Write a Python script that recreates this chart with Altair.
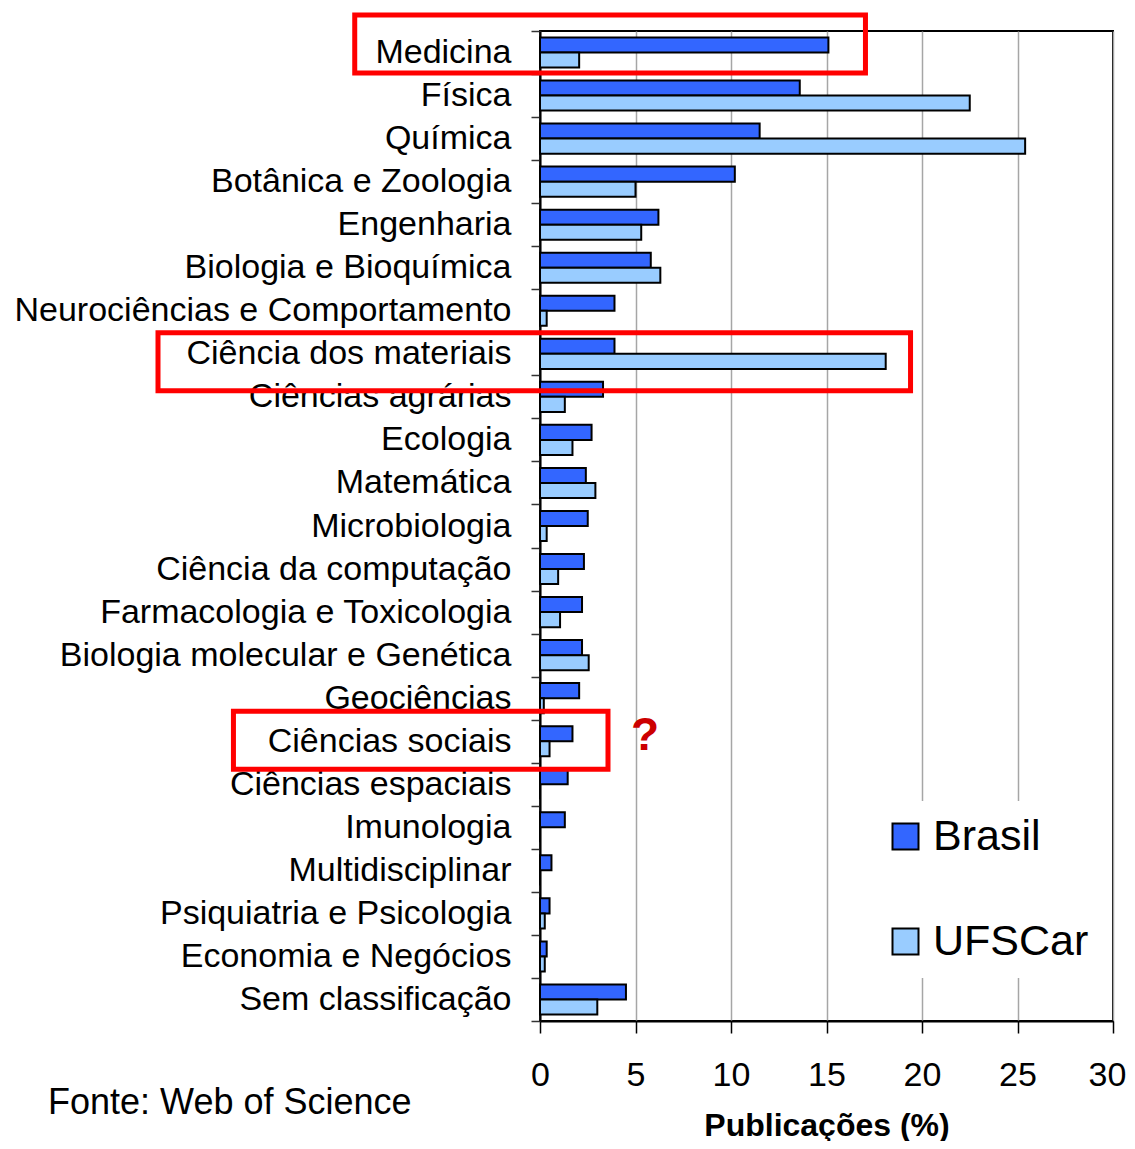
import altair as alt
import pandas as pd

categories = ["Medicina", "Física", "Química", "Botânica e Zoologia", "Engenharia",
              "Biologia e Bioquímica", "Neurociências e Comportamento", "Ciência dos materiais",
              "Ciências agrárias", "Ecologia", "Matemática", "Microbiologia",
              "Ciência da computação", "Farmacologia e Toxicologia",
              "Biologia molecular e Genética", "Geociências", "Ciências sociais",
              "Ciências espaciais", "Imunologia", "Multidisciplinar",
              "Psiquiatria e Psicologia", "Economia e Negócios", "Sem classificação"]
brasil = [15.1, 13.6, 11.5, 10.2, 6.2, 5.8, 3.9, 3.9, 3.3, 2.7, 2.4, 2.5, 2.3, 2.2,
          2.2, 2.05, 1.7, 1.45, 1.3, 0.6, 0.5, 0.35, 4.5]
ufscar = [2.05, 22.5, 25.4, 5.0, 5.3, 6.3, 0.35, 18.1, 1.3, 1.7, 2.9, 0.35, 0.95, 1.05,
          2.55, 0.2, 0.5, 0.0, 0.0, 0.0, 0.25, 0.25, 3.0]
series = ["Brasil", "UFSCar"]
colors = ["#3366FF", "#99CCFF"]
x_ticks = [0, 5, 10, 15, 20, 25, 30]

# highlighted categories (box extents in data units)
box_cats = ["Medicina", "Ciência dos materiais", "Ciências sociais"]
box_x0 = [-9.7, -20.0, -16.05]
box_x1 = [17.04, 19.4, 3.56]
box_shift = [-8.5, 8, -1]

FONT = "Liberation Sans"

rows = []
for c, b, u in zip(categories, brasil, ufscar):
    rows.append({"cat": c, "serie": "Brasil", "val": b})
    rows.append({"cat": c, "serie": "UFSCar", "val": u})
df = pd.DataFrame(rows)

y_enc = alt.Y("cat:N", sort=categories,
              scale=alt.Scale(domain=categories, paddingInner=0, paddingOuter=0),
              axis=alt.Axis(title=None, labelFont=FONT, labelFontSize=34, labelColor="black",
                            labelPadding=20, tickSize=9, tickColor="#333333", tickWidth=1.5,
                            tickBand="extent", domainColor="black", domainWidth=2,
                            labelLimit=0))
x_scale = alt.Scale(domain=[0, 30], nice=False, zero=True)

bars = alt.Chart(df).mark_bar(stroke="black", strokeWidth=2).encode(
    x=alt.X("val:Q", scale=x_scale,
            axis=alt.Axis(values=x_ticks, title="Publicações (%)", titleFont=FONT,
                          titleFontSize=32, titleFontWeight="bold", titleColor="black",
                          titlePadding=18, labelFont=FONT, labelFontSize=34,
                          labelColor="black", labelPadding=25, tickSize=12,
                          labelFlush=False, labelOverlap=False,
                          labelOffset={"condition": {"test": "datum.value >= 30", "value": -6},
                                       "value": 0},
                          tickColor="black", tickWidth=1.5, domainColor="black",
                          domainWidth=2, grid=True, gridColor="#A6A6A6", gridWidth=1.5)),
    y=y_enc,
    yOffset=alt.YOffset("serie:N", sort=series,
                        scale=alt.Scale(domain=series, paddingInner=0, paddingOuter=0.43)),
    color=alt.Color("serie:N", sort=series,
                    scale=alt.Scale(domain=series, range=colors),
                    legend=alt.Legend(title=None, orient="none", legendX=330, legendY=770,
                                      symbolType="square", symbolSize=676,
                                      symbolStrokeColor="black", symbolStrokeWidth=2,
                                      symbolOpacity=1,
                                      labelFont=FONT, labelFontSize=43, labelColor="black",
                                      labelOffset=6, rowPadding=61, padding=14,
                                      fillColor="white")),
)

layers = [bars]
for c, a, b, s in zip(box_cats, box_x0, box_x1, box_shift):
    bdf = pd.DataFrame({"cat": [c], "x0": [a], "x1": [b]})
    layers.append(
        alt.Chart(bdf).mark_bar(size=58, fillOpacity=0, stroke="#FF0000", strokeWidth=5,
                                yOffset=s, clip=False).encode(
            x=alt.X("x0:Q", scale=x_scale), x2="x1:Q", y=y_enc)
    )

qdf = pd.DataFrame({"cat": ["Ciências sociais"], "x": [5.5], "t": ["?"]})
q = alt.Chart(qdf).mark_text(font=FONT, fontSize=46, fontWeight="bold", color="#CC0000",
                             yOffset=-5, baseline="middle", align="center").encode(
    x=alt.X("x:Q", scale=x_scale), y=y_enc, text="t:N")
layers.append(q)

fdf = pd.DataFrame({"t": ["Fonte: Web of Science"]})
fonte = alt.Chart(fdf).mark_text(font=FONT, fontSize=36, color="black", align="left",
                                 baseline="middle").encode(
    x=alt.value(-492), y=alt.value(1072), text="t:N")
layers.append(fonte)

chart = alt.layer(*layers).properties(
    width=573, height=990,
    autosize=alt.AutoSizeParams(type="none"),
    padding={"left": 532, "top": 23, "right": 14, "bottom": 120},
).configure(background="white").configure_view(stroke="black", strokeWidth=2)

chart.save("out.html", embed_options={"renderer": "svg", "actions": False})
